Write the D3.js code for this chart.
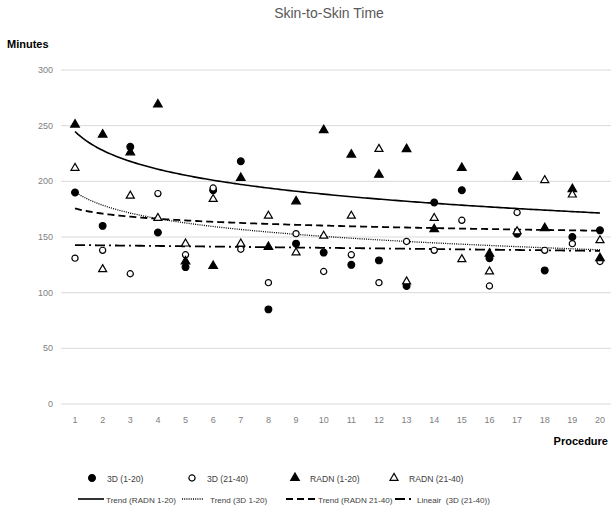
<!DOCTYPE html>
<html>
<head>
<meta charset="utf-8">
<title>Skin-to-Skin Time</title>
<style>
  body { margin: 0; background: #fff; }
  svg text { font-family: "Liberation Sans", Arial, sans-serif; }
  .grid line { stroke: #d9d9d9; stroke-width: 1; }
  .tick-label { font-size: 9px; fill: #808080; }
  .title { font-size: 14px; fill: #595959; }
  .axis-title { font-size: 11px; font-weight: bold; fill: #000; }
  .legend text { font-size: 8.6px; fill: #404040; }
  .legend text.row2 { font-size: 8.1px; }
</style>
</head>
<body>
<svg id="chart" width="611" height="508"></svg>
<script src="https://cdnjs.cloudflare.com/ajax/libs/d3/7.8.5/d3.min.js"></script>
<script>
// values (minutes per procedure)
const procedures = d3.range(1, 21);
const threeD_1_20  = [190, 160, 231, 154, 123, 192, 218, 85, 144, 136, 125, 129, 106, 181, 192, 131, 153, 120, 150, 156];
const threeD_21_40 = [131, 138, 117, 189, 134, 194, 139, 109, 153, 119, 134, 109, 146, 138, 165, 106, 172, 138, 144, 128];
const radn_1_20    = [251, 242, 226, 269, 128, 124, 203, 141, 182, 246, 224, 206, 229, 157, 212, 135, 204, 158, 193, 131];
const radn_21_40   = [212, 121, 187, 167, 144, 184, 144, 169, 136, 151, 169, 229, 110, 167, 130, 119, 155, 201, 188, 147];
const yTicks = [0, 50, 100, 150, 200, 250, 300];

const svg = d3.select('#chart');

const x = d3.scaleLinear().domain([0.5, 20.5]).range([61.2, 613.8]);
const y = d3.scaleLinear().domain([0, 300]).range([404, 70]);

// least squares fit, optionally on ln(x) (Excel log trend)
function fit(vals, useLog) {
    const xs = procedures.map(p => useLog ? Math.log(p) : p);
    const mx = d3.mean(xs), my = d3.mean(vals);
    let num = 0, den = 0;
    xs.forEach((v, i) => { num += (v - mx) * (vals[i] - my); den += (v - mx) * (v - mx); });
    const b = num / den, a = my - b * mx;
    return p => a + b * (useLog ? Math.log(p) : p);
}

// title and axis titles
svg.append('text').attr('class', 'title').attr('x', 329).attr('y', 18)
    .attr('text-anchor', 'middle').text('Skin-to-Skin Time');
svg.append('text').attr('class', 'axis-title').attr('x', 7).attr('y', 48).text('Minutes');
svg.append('text').attr('class', 'axis-title').attr('x', 608).attr('y', 445)
    .attr('text-anchor', 'end').text('Procedure');

// gridlines + y labels
const grid = svg.append('g').attr('class', 'grid');
grid.selectAll('line').data(yTicks).enter().append('line')
    .attr('x1', 61).attr('x2', 611)
    .attr('y1', d => y(d)).attr('y2', d => y(d));
svg.selectAll('.ylab').data(yTicks).enter().append('text')
    .attr('class', 'tick-label').attr('x', 53).attr('y', d => y(d) + 3)
    .attr('text-anchor', 'end').text(d => d);

// x labels
svg.selectAll('.xlab').data(procedures).enter().append('text')
    .attr('class', 'tick-label').attr('x', d => x(d)).attr('y', 423)
    .attr('text-anchor', 'middle').text(d => d);

// trend lines
const fine = d3.range(1, 20.01, 0.1);
const trends = [
    { f: fit(radn_1_20, true),    dash: null,        w: 1.6 },
    { f: fit(threeD_1_20, true),  dash: '1,1.2',     w: 1.3 },
    { f: fit(radn_21_40, true),   dash: '7,4',       w: 1.8 },
    { f: fit(threeD_21_40, false), dash: '10,4,2,4', w: 1.8 }
];
const line = d3.line().x(d => x(d[0])).y(d => y(d[1]));
trends.forEach(t => {
    svg.append('path')
        .attr('d', line(fine.map(p => [p, t.f(p)])))
        .attr('fill', 'none').attr('stroke', '#000')
        .attr('stroke-width', t.w)
        .attr('stroke-dasharray', t.dash);
});

// markers
const series = [
    { name: '3D (1-20)',    vals: threeD_1_20,  sym: d3.symbolCircle,   size: 36, fill: '#000' },
    { name: '3D (21-40)',   vals: threeD_21_40, sym: d3.symbolCircle,   size: 30, fill: '#fff' },
    { name: 'RADN (1-20)',  vals: radn_1_20,    sym: d3.symbolTriangle, size: 32, fill: '#000' },
    { name: 'RADN (21-40)', vals: radn_21_40,   sym: d3.symbolTriangle, size: 28, fill: '#fff' }
];
series.forEach(s => {
    svg.append('g').selectAll('path').data(s.vals).enter().append('path')
        .attr('d', d3.symbol().type(s.sym).size(s.size))
        .attr('transform', (d, i) => `translate(${x(procedures[i])},${y(d)})`)
        .attr('fill', s.fill).attr('stroke', '#000').attr('stroke-width', 1.2);
});

// legend row 1
const leg = svg.append('g').attr('class', 'legend');
const markX = [92, 192, 295, 394];
series.forEach((s, i) => {
    leg.append('path')
        .attr('d', d3.symbol().type(s.sym).size(s.size))
        .attr('transform', `translate(${markX[i]},${478})`)
        .attr('fill', s.fill).attr('stroke', '#000').attr('stroke-width', 1.2);
    leg.append('text').attr('x', markX[i] + 15).attr('y', 481.5).text(s.name);
});

// legend row 2
const trendNames = ['Trend (RADN 1-20)', 'Trend (3D 1-20)', 'Trend (RADN 21-40)', 'Lineair  (3D (21-40))'];
const lineX = [[78, 104], [182, 204], [286, 316], [395, 415]];
trends.forEach((t, i) => {
    leg.append('line')
        .attr('x1', lineX[i][0]).attr('x2', lineX[i][1]).attr('y1', 499).attr('y2', 499)
        .attr('stroke', '#000').attr('stroke-width', t.w)
        .attr('stroke-dasharray', t.dash);
    leg.append('text').attr('class', 'row2')
        .attr('x', lineX[i][1] + (i === 1 ? 6 : 2)).attr('y', 502.5)
        .attr('xml:space', 'preserve').text(trendNames[i]);
});
</script>
</body>
</html>
